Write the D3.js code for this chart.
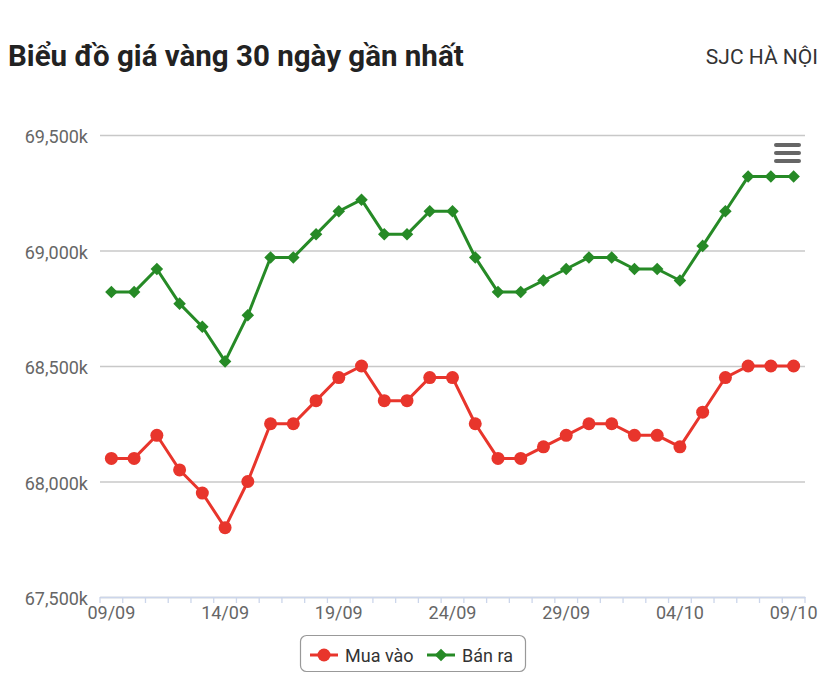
<!DOCTYPE html>
<html>
<head>
<meta charset="utf-8">
<script src="https://cdn.jsdelivr.net/npm/d3@7"></script>
<style>
  html, body { margin: 0; padding: 0; background: #fff; }
  svg { display: block; font-family: Roboto, "Noto Sans", sans-serif; }
</style>
</head>
<body>
<svg id="chart" width="828" height="682"></svg>
<script>
const titleText = "Biểu đồ giá vàng 30 ngày gần nhất";
const subtitleText = "SJC HÀ NỘI";
const categories = [
  "09/09","10/09","11/09","12/09","13/09","14/09","15/09","16/09","17/09","18/09",
  "19/09","20/09","21/09","22/09","23/09","24/09","25/09","26/09","27/09","28/09",
  "29/09","30/09","01/10","02/10","03/10","04/10","05/10","06/10","07/10","08/10","09/10"
];
const muaVao = [
  68100,68100,68200,68050,67950,67800,68000,68250,68250,68350,
  68450,68500,68350,68350,68450,68450,68250,68100,68100,68150,
  68200,68250,68250,68200,68200,68150,68300,68450,68500,68500,68500
];
const banRa = [
  68820,68820,68920,68770,68670,68520,68720,68970,68970,69070,
  69170,69220,69070,69070,69170,69170,68970,68820,68820,68870,
  68920,68970,68970,68920,68920,68870,69020,69170,69320,69320,69320
];
const yTicks = [67500, 68000, 68500, 69000, 69500];
const seriesNames = ["Mua vào", "Bán ra"];
const seriesColors = ["#e8352c", "#268a26"];

(function () {
const svg = d3.select("#chart");
const W = 828, H = 682;
const pLeft = 100, pRight = 805, pTop = 135, pBottom = 597;

svg.append("rect").attr("width", W).attr("height", H).attr("fill", "#fff");

// Title
svg.append("text").attr("x", 8).attr("y", 66)
  .attr("font-size", 29.5).attr("font-weight", 700).attr("fill", "#222")
  .text(titleText);
svg.append("text").attr("x", 818).attr("y", 64).attr("text-anchor", "end")
  .attr("font-size", 21).attr("fill", "#333")
  .text(subtitleText);

const x = d3.scaleBand().domain(categories).range([pLeft, pRight]).padding(0);
const cx = d => x(d) + x.bandwidth() / 2;
const y = d3.scaleLinear().domain([67500, 69500]).range([pBottom, pTop]);

// Y axis with gridlines
const yAxis = d3.axisLeft(y).tickValues(yTicks)
  .tickSize(-(pRight - pLeft)).tickPadding(12)
  .tickFormat(d => d3.format(",")(d) + "k");
const gy = svg.append("g").attr("transform", `translate(${pLeft},0)`).call(yAxis);
gy.select(".domain").remove();
gy.selectAll(".tick line").attr("stroke", "#c8c8c8").attr("stroke-width", 1.3);
gy.selectAll(".tick text").attr("font-size", 18).attr("fill", "#666")
  .attr("font-family", "Roboto, sans-serif").attr("dy", "0.42em");

// X axis
const xAxis = d3.axisBottom(x)
  .tickFormat((d, i) => (i % 5 === 0 ? d : ""))
  .tickSize(0).tickPadding(9);
const gx = svg.append("g").attr("transform", `translate(0,${pBottom})`).call(xAxis);
gx.select(".domain").attr("stroke", "#ccd6eb").attr("stroke-width", 1.3);
gx.selectAll(".tick text").attr("font-size", 18).attr("fill", "#666")
  .attr("font-family", "Roboto, sans-serif");
const boundaries = categories.map(d => x(d)).concat([x(categories[categories.length - 1]) + x.bandwidth()]);
gx.selectAll("line.bt").data(boundaries).enter().append("line")
  .attr("class", "bt")
  .attr("x1", d => d).attr("x2", d => d)
  .attr("y1", 0).attr("y2", 6)
  .attr("stroke", "#ccd6eb").attr("stroke-width", 1.3);

// Lines
const line = d3.line().x((d, i) => cx(categories[i])).y(d => y(d));
const diamond = d3.symbol().type(d3.symbolDiamond2).size(100);

svg.append("path").datum(banRa).attr("d", line)
  .attr("fill", "none").attr("stroke", seriesColors[1]).attr("stroke-width", 3)
  .attr("stroke-linejoin", "round");
svg.append("g").selectAll("path").data(banRa).enter().append("path")
  .attr("d", diamond)
  .attr("transform", (d, i) => `translate(${cx(categories[i])},${y(d)})`)
  .attr("fill", seriesColors[1]);

svg.append("path").datum(muaVao).attr("d", line)
  .attr("fill", "none").attr("stroke", seriesColors[0]).attr("stroke-width", 3)
  .attr("stroke-linejoin", "round");
svg.append("g").selectAll("circle").data(muaVao).enter().append("circle")
  .attr("cx", (d, i) => cx(categories[i])).attr("cy", d => y(d))
  .attr("r", 6.5).attr("fill", seriesColors[0]);

// Menu icon
const menu = svg.append("g").attr("stroke", "#666").attr("stroke-width", 4).attr("stroke-linecap", "round");
[145, 153, 161].forEach(yy => {
  menu.append("line").attr("x1", 776).attr("x2", 799).attr("y1", yy).attr("y2", yy);
});

// Legend
const lg = svg.append("g");
lg.append("rect").attr("x", 300.5).attr("y", 635.5).attr("width", 225).attr("height", 36)
  .attr("rx", 6).attr("fill", "#fff").attr("stroke", "#999").attr("stroke-width", 1.2);
const items = [
  {name: seriesNames[0], color: seriesColors[0], lx: 310, tx: 345, sym: "circle"},
  {name: seriesNames[1], color: seriesColors[1], lx: 427, tx: 462, sym: "diamond"}
];
items.forEach(it => {
  lg.append("line").attr("x1", it.lx).attr("x2", it.lx + 28).attr("y1", 655).attr("y2", 655)
    .attr("stroke", it.color).attr("stroke-width", 3);
  if (it.sym === "circle") {
    lg.append("circle").attr("cx", it.lx + 14).attr("cy", 655).attr("r", 6.5).attr("fill", it.color);
  } else {
    lg.append("path").attr("d", diamond).attr("transform", `translate(${it.lx + 14},655)`).attr("fill", it.color);
  }
  lg.append("text").attr("x", it.tx).attr("y", 661.5).attr("font-size", 18)
    .attr("fill", "#333").text(it.name);
});
})();
</script>
</body>
</html>
